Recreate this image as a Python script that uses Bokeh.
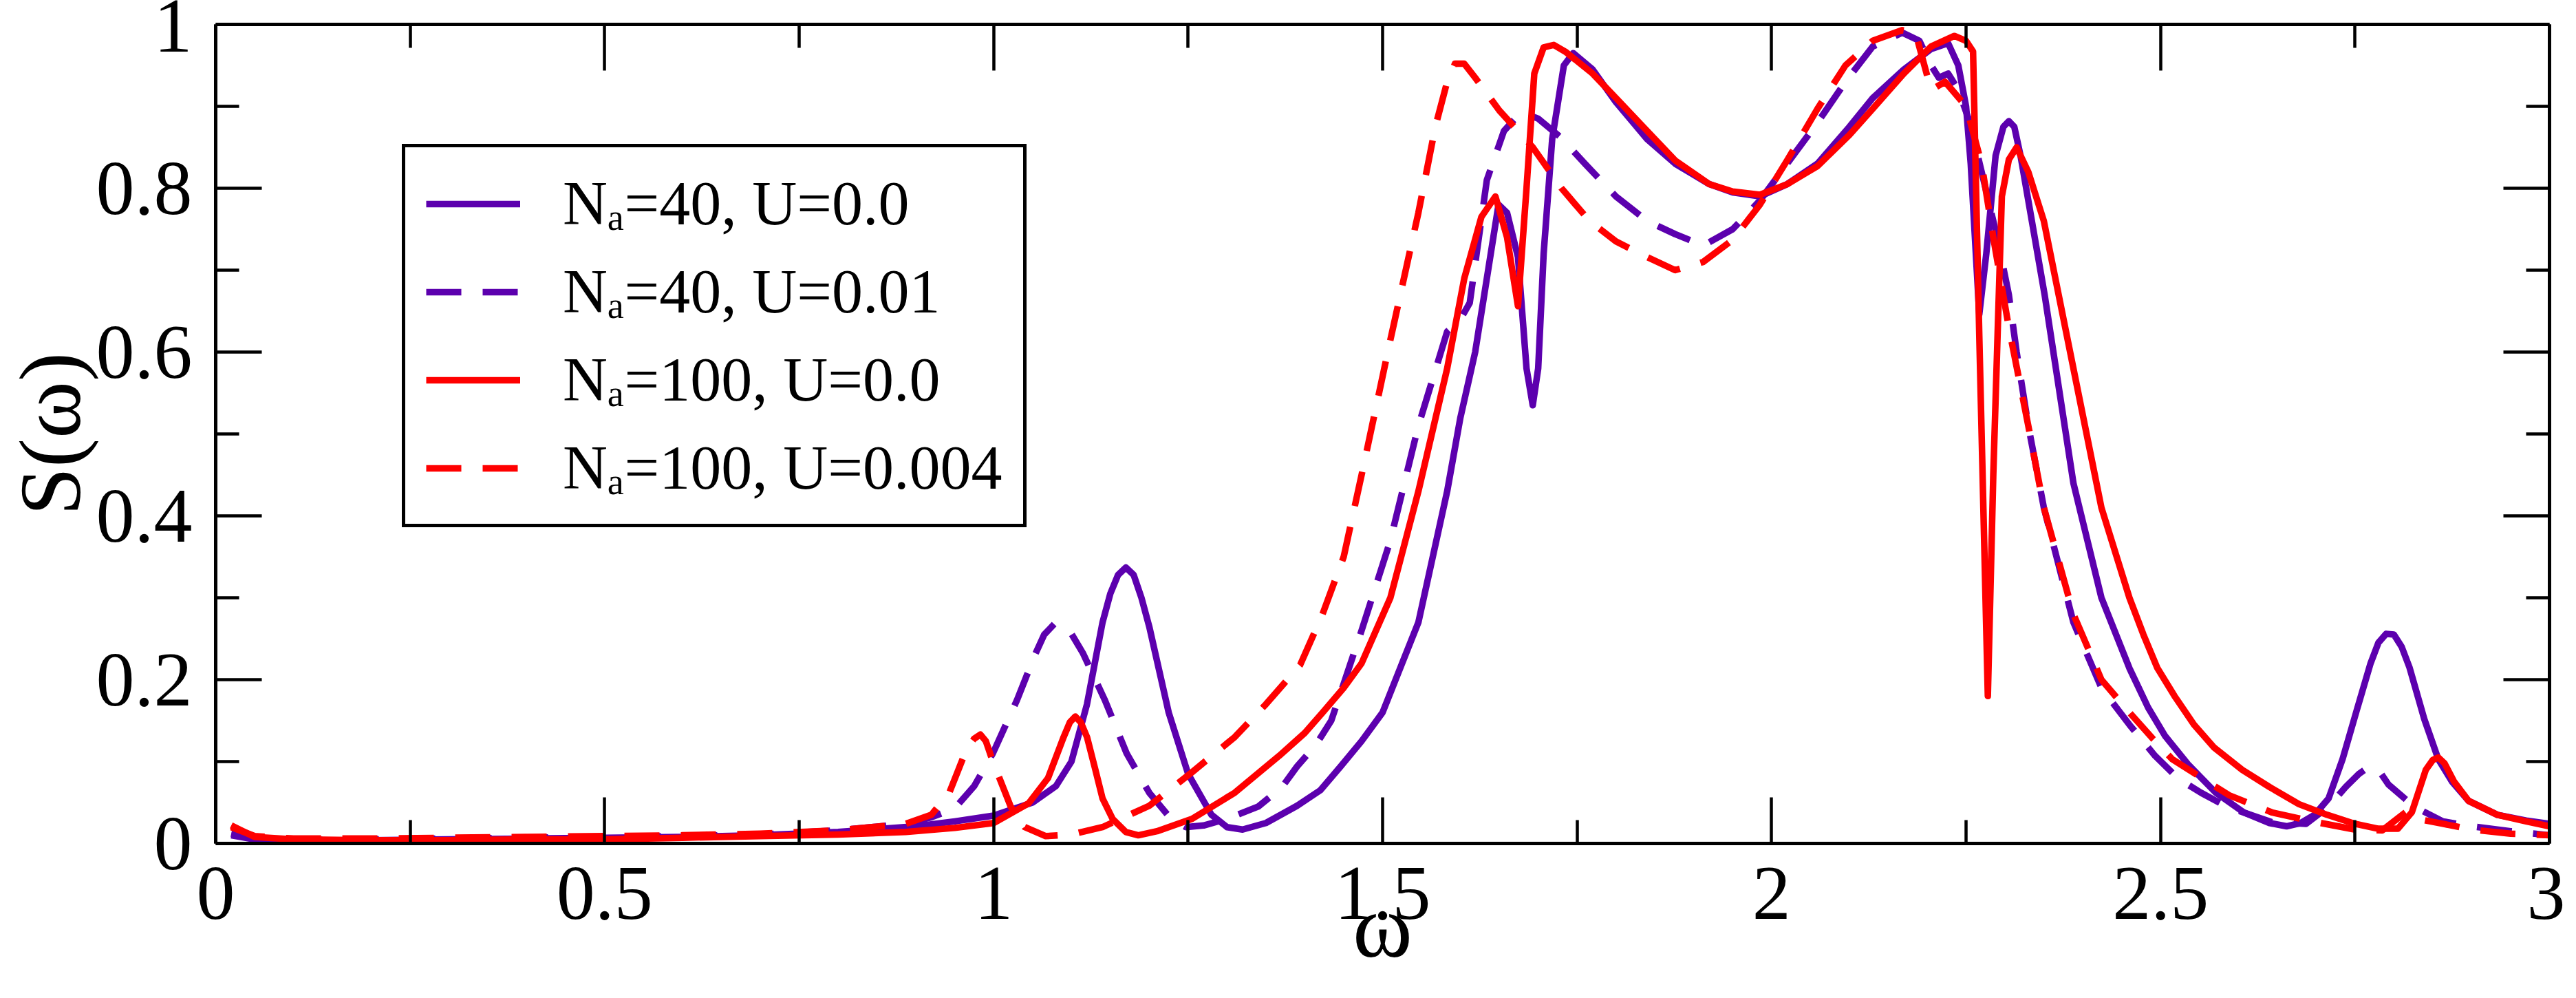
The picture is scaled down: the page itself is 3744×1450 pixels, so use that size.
from bokeh.plotting import figure
from bokeh.models import Range1d, FixedTicker, LinearAxis, Legend, LegendItem
from bokeh.embed import file_html
from bokeh.resources import INLINE

# ---------------- data ----------------
w_40_u0 = [0.02, 0.05, 0.1, 0.2, 0.3, 0.4, 0.5, 0.6, 0.7, 0.8, 0.9, 0.95, 1.0, 1.05, 1.08, 1.10,
           1.12, 1.14, 1.15, 1.16, 1.17, 1.18, 1.19, 1.20, 1.225, 1.25, 1.28, 1.30, 1.32, 1.35,
           1.39, 1.42, 1.446, 1.473, 1.50, 1.546, 1.583, 1.60, 1.619, 1.634, 1.649, 1.66, 1.674,
           1.685, 1.693, 1.70, 1.707, 1.718, 1.733, 1.745, 1.77, 1.80, 1.84, 1.876, 1.92, 1.95,
           1.985, 2.02, 2.059, 2.10, 2.13, 2.17, 2.205, 2.227, 2.24, 2.25, 2.256, 2.267, 2.276,
           2.288, 2.298, 2.305, 2.312, 2.32, 2.351, 2.388, 2.424, 2.46, 2.484, 2.506, 2.535,
           2.571, 2.607, 2.64, 2.662, 2.68, 2.698, 2.716, 2.734, 2.752, 2.77, 2.78, 2.79, 2.80,
           2.81, 2.82, 2.839, 2.857, 2.875, 2.896, 2.933, 2.97, 3.0]
s_40_u0 = [0.012, 0.006, 0.004, 0.004, 0.005, 0.006, 0.007, 0.008, 0.010, 0.014, 0.021, 0.027,
           0.034, 0.050, 0.070, 0.100, 0.170, 0.270, 0.305, 0.328, 0.337, 0.328, 0.300, 0.265,
           0.160, 0.085, 0.035, 0.020, 0.017, 0.025, 0.046, 0.065, 0.094, 0.125, 0.160, 0.270,
           0.430, 0.520, 0.600, 0.690, 0.780, 0.770, 0.716, 0.580, 0.535, 0.580, 0.720, 0.860,
           0.950, 0.965, 0.945, 0.905, 0.860, 0.830, 0.805, 0.795, 0.790, 0.805, 0.830, 0.875,
           0.910, 0.945, 0.970, 0.977, 0.950, 0.900, 0.830, 0.646, 0.720, 0.840, 0.875, 0.882,
           0.875, 0.840, 0.670, 0.440, 0.300, 0.214, 0.166, 0.131, 0.097, 0.062, 0.038, 0.025,
           0.021, 0.025, 0.035, 0.055, 0.103, 0.162, 0.220, 0.245, 0.256, 0.255, 0.240, 0.215,
           0.152, 0.103, 0.075, 0.052, 0.035, 0.028, 0.024]

w_40_u001 = [0.02, 0.05, 0.1, 0.2, 0.3, 0.4, 0.5, 0.6, 0.7, 0.8, 0.887, 0.92, 0.95, 0.975,
             0.999, 1.03, 1.053, 1.065, 1.078, 1.09, 1.10, 1.115, 1.143, 1.171, 1.2, 1.228,
             1.247, 1.27, 1.30, 1.34, 1.37, 1.39, 1.414, 1.434, 1.473, 1.51, 1.546, 1.583, 1.60,
             1.612, 1.634, 1.656, 1.678, 1.70, 1.729, 1.76, 1.80, 1.84, 1.876, 1.912, 1.95,
             1.985, 2.02, 2.059, 2.095, 2.13, 2.168, 2.19, 2.205, 2.215, 2.227, 2.24, 2.255,
             2.27, 2.29, 2.305, 2.315, 2.33, 2.35, 2.388, 2.424, 2.46, 2.493, 2.523, 2.552,
             2.585, 2.643, 2.687, 2.716, 2.738, 2.755, 2.767, 2.78, 2.793, 2.826, 2.863, 2.9,
             2.95, 3.0]
s_40_u001 = [0.010, 0.005, 0.004, 0.005, 0.006, 0.007, 0.008, 0.009, 0.011, 0.016, 0.024,
             0.032, 0.043, 0.070, 0.110, 0.175, 0.230, 0.255, 0.268, 0.265, 0.256, 0.232,
             0.175, 0.110, 0.062, 0.030, 0.020, 0.022, 0.030, 0.045, 0.068, 0.094, 0.120,
             0.150, 0.260, 0.370, 0.510, 0.625, 0.640, 0.660, 0.810, 0.870, 0.893, 0.885,
             0.862, 0.830, 0.790, 0.760, 0.744, 0.730, 0.750, 0.785, 0.830, 0.880, 0.930,
             0.973, 0.990, 0.980, 0.950, 0.935, 0.940, 0.920, 0.880, 0.820, 0.740, 0.670,
             0.600, 0.510, 0.410, 0.270, 0.190, 0.145, 0.107, 0.079, 0.062, 0.045, 0.026,
             0.024, 0.045, 0.069, 0.085, 0.093, 0.090, 0.072, 0.045, 0.027, 0.021, 0.015, 0.010]

w_100_u0 = [0.02, 0.05, 0.1, 0.2, 0.3, 0.4, 0.5, 0.6, 0.7, 0.8, 0.887, 0.95, 1.0, 1.045, 1.07,
            1.09, 1.098, 1.105, 1.112, 1.12, 1.13, 1.14, 1.153, 1.17, 1.186, 1.21, 1.255, 1.31,
            1.367, 1.40, 1.423, 1.45, 1.473, 1.51, 1.546, 1.583, 1.605, 1.627, 1.645, 1.66,
            1.674, 1.685, 1.695, 1.707, 1.72, 1.736, 1.77, 1.80, 1.84, 1.876, 1.92, 1.95, 1.985,
            2.02, 2.059, 2.10, 2.13, 2.17, 2.205, 2.235, 2.25, 2.259, 2.267, 2.278, 2.285,
            2.296, 2.305, 2.315, 2.33, 2.35, 2.388, 2.424, 2.46, 2.478, 2.496, 2.518, 2.543,
            2.569, 2.605, 2.64, 2.678, 2.714, 2.75, 2.78, 2.805, 2.823, 2.841, 2.85, 2.857,
            2.865, 2.877, 2.896, 2.933, 2.97, 3.0]
s_100_u0 = [0.022, 0.008, 0.005, 0.004, 0.004, 0.005, 0.005, 0.007, 0.009, 0.011, 0.014,
            0.019, 0.025, 0.049, 0.080, 0.130, 0.148, 0.155, 0.148, 0.130, 0.093, 0.055,
            0.030, 0.014, 0.010, 0.015, 0.030, 0.062, 0.107, 0.135, 0.160, 0.190, 0.220,
            0.300, 0.430, 0.580, 0.690, 0.765, 0.790, 0.740, 0.656, 0.800, 0.940, 0.972,
            0.975, 0.966, 0.940, 0.910, 0.870, 0.834, 0.805, 0.796, 0.792, 0.805, 0.827,
            0.865, 0.897, 0.940, 0.973, 0.986, 0.980, 0.967, 0.620, 0.180, 0.450, 0.790,
            0.835, 0.850, 0.820, 0.760, 0.580, 0.410, 0.300, 0.255, 0.214, 0.180, 0.145,
            0.117, 0.090, 0.069, 0.048, 0.035, 0.024, 0.018, 0.018, 0.038, 0.090, 0.102,
            0.105, 0.098, 0.076, 0.052, 0.035, 0.027, 0.021]

w_100_u0004 = [0.02, 0.05, 0.1, 0.2, 0.3, 0.4, 0.5, 0.6, 0.7, 0.8, 0.887, 0.92, 0.943, 0.966,
               0.975, 0.983, 0.99, 0.999, 1.022, 1.04, 1.067, 1.1, 1.14, 1.2, 1.255, 1.31, 1.35,
               1.394, 1.422, 1.45, 1.473, 1.51, 1.546, 1.568, 1.583, 1.593, 1.605, 1.619, 1.65,
               1.693, 1.73, 1.766, 1.80, 1.84, 1.876, 1.912, 1.95, 1.985, 2.02, 2.059, 2.095,
               2.13, 2.168, 2.185, 2.205, 2.223, 2.25, 2.27, 2.285, 2.305, 2.33, 2.35, 2.388,
               2.424, 2.46, 2.49, 2.515, 2.548, 2.588, 2.643, 2.695, 2.75, 2.785, 2.80, 2.815,
               2.83, 2.863, 2.9, 2.95, 3.0]
s_100_u0004 = [0.020, 0.009, 0.006, 0.006, 0.007, 0.008, 0.009, 0.010, 0.012, 0.016, 0.024,
               0.035, 0.062, 0.117, 0.128, 0.133, 0.125, 0.100, 0.045, 0.020, 0.009, 0.011,
               0.020, 0.046, 0.087, 0.130, 0.170, 0.218, 0.278, 0.350, 0.450, 0.615, 0.770,
               0.876, 0.930, 0.952, 0.952, 0.935, 0.895, 0.850, 0.800, 0.760, 0.735, 0.716,
               0.700, 0.710, 0.737, 0.780, 0.834, 0.897, 0.950, 0.980, 0.993, 0.990, 0.920,
               0.930, 0.900, 0.830, 0.740, 0.630, 0.510, 0.410, 0.280, 0.200, 0.160, 0.128,
               0.103, 0.083, 0.059, 0.038, 0.027, 0.017, 0.016, 0.027, 0.038, 0.030, 0.024,
               0.017, 0.012, 0.010]

series_labels = ["N\u2090=40, U=0.0", "N\u2090=40, U=0.01", "N\u2090=100, U=0.0", "N\u2090=100, U=0.004"]
x_title = "\u03c9"
y_title = "S(\u03c9)"

x_ticks = [0, 0.5, 1, 1.5, 2, 2.5, 3]
x_tick_labels = ["0", "0.5", "1", "1.5", "2", "2.5", "3"]
x_minor = [0.25, 0.75, 1.25, 1.75, 2.25, 2.75]
y_ticks = [0, 0.2, 0.4, 0.6, 0.8, 1]
y_tick_labels = ["0", "0.2", "0.4", "0.6", "0.8", "1"]
y_minor = [0.1, 0.3, 0.5, 0.7, 0.9]

# ---------------- styling ----------------
PURPLE = "#5c00ae"
RED = "#ff0000"
FONT = "Liberation Serif"
LW = 9.5

p = figure(width=3728, height=1434, output_backend="svg", toolbar_location=None,
           x_range=Range1d(0, 3), y_range=Range1d(0, 1),
           min_border_left=307, min_border_right=23, min_border_top=35, min_border_bottom=209)
p.grid.visible = False
p.outline_line_color = None
p.background_fill_color = "white"
p.border_fill_color = "white"


def style_axis(ax, ticks, minor, labels=None):
    ax.ticker = FixedTicker(ticks=ticks, minor_ticks=minor)
    ax.axis_line_color = "black"
    ax.axis_line_width = 5
    ax.major_tick_line_color = "black"
    ax.major_tick_line_width = 4.5
    ax.minor_tick_line_color = "black"
    ax.minor_tick_line_width = 4.5
    ax.major_tick_in = 67
    ax.major_tick_out = 0
    ax.minor_tick_in = 34
    ax.minor_tick_out = 0
    if labels is not None:
        ax.major_label_overrides = {t: l for t, l in zip(ticks, labels)}
        ax.major_label_text_font = FONT
        ax.major_label_text_font_size = "112px"
        ax.major_label_text_color = "black"
    else:
        # mirrored axis: ticks only, no labels drawn
        ax.major_label_text_color = None
        ax.major_label_text_font_size = "1px"
        ax.major_label_standoff = 0


xb = p.xaxis[0]
style_axis(xb, x_ticks, x_minor, x_tick_labels)
xb.major_label_standoff = 35
xb.axis_label = x_title
xb.axis_label_text_font = FONT
xb.axis_label_text_font_size = "132px"
xb.axis_label_text_font_style = "normal"
xb.axis_label_text_color = "black"
xb.axis_label_standoff = -66

yl = p.yaxis[0]
style_axis(yl, y_ticks, y_minor, y_tick_labels)
yl.major_label_standoff = 34
yl.axis_label = y_title
yl.axis_label_text_font = FONT
yl.axis_label_text_font_size = "126px"
yl.axis_label_text_font_style = "normal"
yl.axis_label_text_color = "black"
yl.axis_label_standoff = -6

xt = LinearAxis()
style_axis(xt, x_ticks, x_minor)
p.add_layout(xt, "above")
yr = LinearAxis()
style_axis(yr, y_ticks, y_minor)
p.add_layout(yr, "right")

# ---------------- curves ----------------
r1 = p.line(w_40_u0, s_40_u0, line_color=PURPLE, line_width=LW, line_join="round")
r2 = p.line(w_40_u001, s_40_u001, line_color=PURPLE, line_width=LW, line_dash="51 31",
            line_join="round")
r3 = p.line(w_100_u0, s_100_u0, line_color=RED, line_width=LW, line_join="round")
r4 = p.line(w_100_u0004, s_100_u0004, line_color=RED, line_width=LW, line_dash="51 31",
            line_join="round")

legend = Legend(items=[LegendItem(label=lab, renderers=[r])
                       for lab, r in zip(series_labels, [r1, r2, r3, r4])],
                location=(271, 459))
legend.label_text_font = FONT
legend.label_text_font_size = "90px"
legend.label_text_color = "black"
legend.glyph_width = 137
legend.glyph_height = 100
legend.label_height = 100
legend.label_standoff = 62
legend.spacing = 25
legend.padding = 30
legend.margin = 0
legend.border_line_color = "black"
legend.border_line_alpha = 1.0
legend.border_line_width = 5
legend.background_fill_color = "white"
legend.background_fill_alpha = 1.0
p.add_layout(legend)

open("out.html", "w").write(file_html(p, INLINE))
